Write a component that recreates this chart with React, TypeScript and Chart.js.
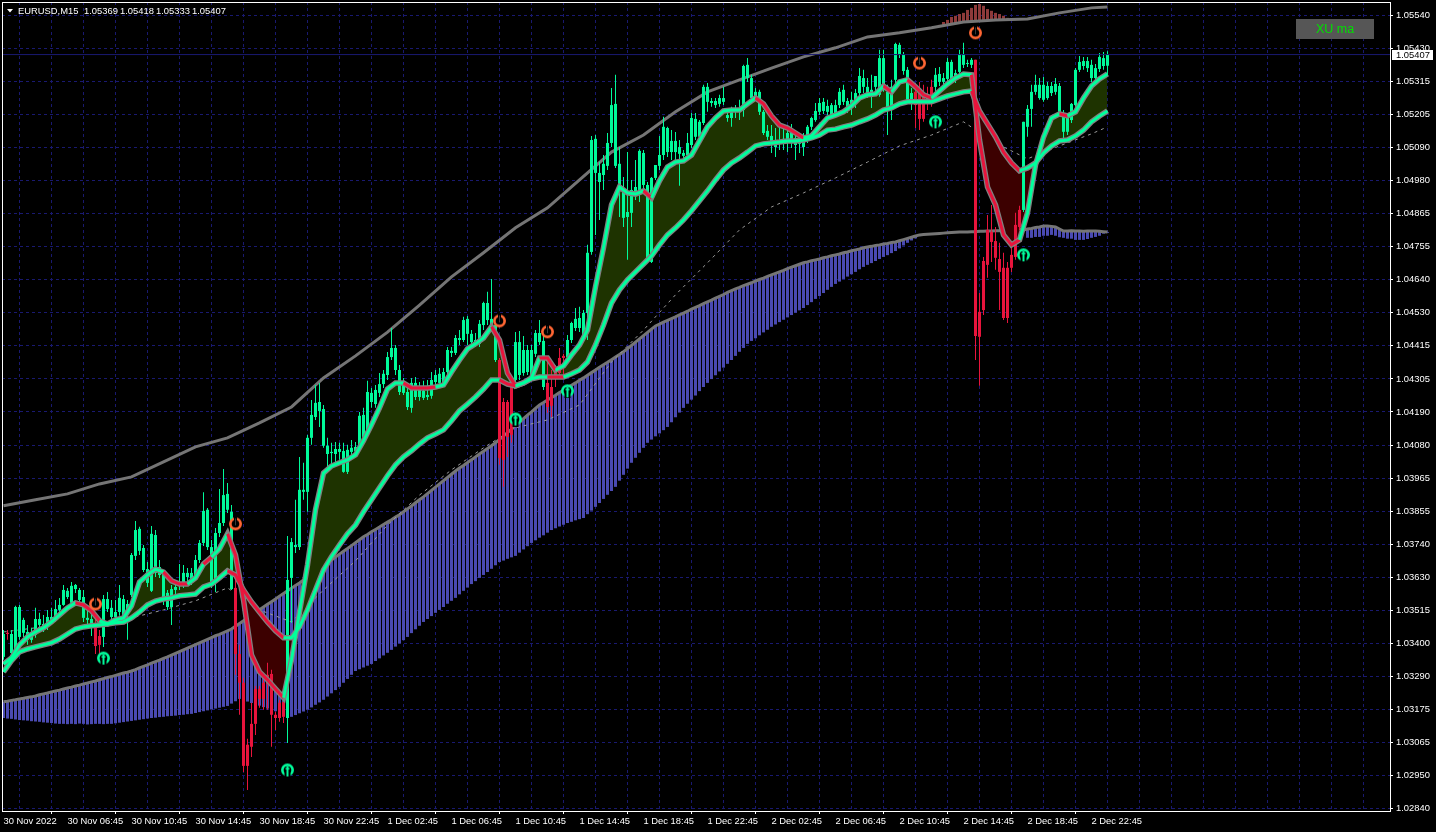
import React, { useEffect, useRef } from "react";
import { Chart, registerables } from "chart.js";

Chart.register(...registerables);

// All series are prices expressed as points above 1.00000 (5407 = 1.05407).
const candleTops = [3434,3438,3434,3526,3526,3482,3441,3438,3485,3485,3468,3492,3492,3519,3533,3584,3581,3598,3601,3584,3560,3489,3485,3468,3427,3553,3553,3523,3509,3557,3553,3536,3703,3788,3792,3727,3655,3775,3771,3662,3635,3574,3587,3594,3611,3642,3642,3642,3686,3744,3853,3857,3730,3778,3812,3907,3911,3850,3591,3366,3268,3057,3128,3247,3247,3268,3295,3298,3159,3200,3203,3618,3747,3737,3925,3925,4102,4180,4221,4224,4200,4075,4054,4064,4064,4057,4061,4068,4071,4177,4180,4258,4255,4265,4285,4320,4377,4408,4408,4333,4292,4258,4289,4289,4265,4262,4248,4299,4316,4320,4326,4401,4398,4442,4442,4503,4507,4456,4435,4490,4561,4561,4507,4486,4367,4224,4224,4275,4428,4428,4401,4401,4401,4459,4459,4432,4289,4275,4333,4374,4381,4435,4493,4507,4510,4527,4732,5116,5120,5004,5035,5106,5235,5239,5035,4953,4871,4946,4956,5079,5072,4963,4987,5031,5065,5161,5157,5113,5113,5092,5072,5106,5191,5188,5178,5297,5297,5249,5249,5259,5259,5201,5222,5222,5222,5368,5372,5327,5280,5280,5212,5147,5130,5106,5109,5120,5140,5140,5123,5109,5120,5161,5191,5215,5242,5246,5232,5235,5235,5280,5287,5249,5253,5276,5334,5327,5297,5287,5334,5395,5395,5280,5297,5443,5440,5406,5355,5276,5280,5276,5276,5270,5297,5338,5341,5327,5382,5382,5344,5409,5409,5378,5389,5389,4531,4704,4810,4803,4772,4711,4681,4681,4725,4827,4878,5178,5222,5280,5304,5304,5304,5300,5300,5307,5300,5208,5191,5239,5355,5382,5385,5385,5372,5361,5399,5395,5407];
const candleBottoms = [3356,3434,3369,3380,3424,3438,3414,3414,3431,3465,3455,3458,3482,3482,3516,3533,3560,3540,3587,3550,3489,3482,3465,3393,3397,3424,3519,3492,3492,3509,3489,3509,3567,3700,3717,3652,3608,3581,3642,3635,3550,3526,3526,3584,3601,3608,3628,3618,3635,3686,3744,3730,3604,3608,3778,3812,3857,3587,3366,3268,2985,2985,3050,3128,3213,3213,3264,3159,3148,3148,3152,3148,3625,3730,3730,3918,3918,4102,4173,4193,4075,4047,4050,4047,4054,3986,3986,4054,4057,4071,4105,4119,4224,4217,4255,4285,4316,4377,4333,4258,4255,4207,4204,4241,4241,4238,4241,4245,4292,4289,4289,4326,4391,4391,4435,4435,4456,4428,4418,4422,4486,4503,4486,4367,4033,4027,4105,4112,4299,4316,4323,4326,4309,4388,4428,4275,4207,4211,4306,4323,4374,4377,4435,4476,4476,4446,4527,4735,5004,4973,4997,5028,5106,5028,4953,4851,4854,4868,4936,4936,4963,4708,4701,4987,5028,5065,5075,5075,5075,5069,5062,5065,5099,5127,5127,5174,5246,5242,5235,5239,5246,5191,5191,5212,5212,5218,5327,5259,5259,5212,5140,5127,5106,5092,5106,5103,5116,5113,5099,5103,5092,5123,5161,5184,5212,5215,5212,5201,5208,5235,5246,5222,5225,5242,5276,5297,5276,5270,5297,5270,5300,5225,5225,5321,5406,5351,5253,5253,5235,5188,5188,5242,5253,5297,5314,5314,5324,5321,5321,5348,5372,5375,5372,4449,4446,4537,4691,4769,4715,4667,4510,4510,4681,4718,4820,4878,5161,5222,5280,5259,5253,5259,5276,5280,5212,5144,5144,5184,5235,5355,5368,5361,5327,5327,5358,5368,5369];
const highs = [3448,3448,3448,3530,3533,3489,3465,3455,3523,3506,3499,3516,3523,3550,3557,3601,3591,3611,3604,3591,3584,3516,3509,3489,3448,3567,3577,3550,3550,3601,3567,3550,3710,3819,3799,3737,3679,3802,3788,3686,3652,3584,3601,3618,3672,3669,3659,3659,3703,3754,3917,3863,3754,3795,3928,3996,3948,3873,3618,3397,3285,3077,3200,3257,3257,3278,3336,3312,3169,3210,3210,3768,3761,3891,4037,4017,4112,4231,4282,4289,4214,4102,4085,4088,4085,4085,4078,4095,4088,4190,4204,4296,4272,4282,4323,4333,4394,4476,4418,4350,4306,4289,4306,4309,4292,4296,4299,4326,4333,4340,4340,4411,4411,4452,4469,4514,4517,4469,4459,4503,4565,4599,4643,4503,4374,4238,4231,4282,4462,4466,4449,4418,4418,4469,4503,4452,4367,4333,4350,4408,4388,4452,4497,4544,4548,4537,4759,5130,5133,5042,5065,5140,5293,5338,5092,4990,5075,4980,5048,5085,5082,4973,4990,5031,5130,5195,5161,5150,5143,5116,5082,5140,5208,5208,5184,5304,5310,5259,5259,5270,5297,5225,5229,5235,5253,5372,5395,5338,5293,5287,5218,5167,5167,5157,5167,5161,5167,5171,5150,5133,5140,5167,5195,5242,5259,5259,5253,5242,5253,5293,5304,5259,5280,5290,5361,5355,5327,5338,5334,5423,5423,5304,5321,5447,5447,5416,5365,5293,5310,5314,5304,5297,5321,5361,5365,5344,5395,5389,5355,5423,5447,5389,5395,5389,4595,4718,4861,4895,4820,4766,4732,4701,4755,4868,4892,5178,5235,5304,5338,5327,5331,5314,5314,5327,5310,5218,5208,5242,5361,5402,5399,5399,5389,5375,5412,5416,5418];
const lows = [3346,3414,3356,3373,3414,3424,3397,3404,3421,3455,3441,3448,3475,3475,3509,3530,3553,3536,3574,3540,3475,3455,3427,3366,3366,3390,3509,3475,3482,3496,3475,3414,3560,3686,3703,3645,3594,3577,3628,3625,3533,3516,3465,3564,3584,3591,3611,3601,3625,3676,3734,3720,3591,3577,3764,3802,3846,3584,3295,3159,2964,2903,3015,3090,3183,3176,3176,3050,3107,3135,3131,3063,3472,3710,3720,3891,3850,4078,4163,4139,4068,4003,4003,4010,4027,3983,3979,4041,4044,4061,4078,4109,4204,4204,4241,4272,4299,4367,4316,4248,4248,4197,4187,4231,4228,4231,4231,4235,4282,4279,4282,4316,4377,4384,4418,4428,4418,4418,4411,4411,4469,4486,4469,4360,4010,3935,4037,4085,4289,4299,4313,4316,4296,4377,4418,4265,4187,4173,4275,4309,4309,4367,4425,4466,4462,4435,4435,4725,4793,4844,4946,5014,5092,5021,4854,4820,4708,4820,4912,4905,4936,4701,4697,4980,5014,5048,5058,5048,5038,4960,5048,5055,5089,5116,5116,5167,5212,5229,5225,5229,5235,5178,5161,5191,5184,5195,5314,5253,5253,5201,5133,5116,5072,5058,5082,5082,5075,5089,5048,5072,5062,5106,5150,5178,5201,5205,5201,5191,5198,5225,5235,5208,5201,5225,5263,5276,5259,5225,5270,5263,5280,5133,5184,5304,5395,5338,5242,5218,5157,5150,5178,5218,5229,5253,5300,5304,5314,5310,5310,5338,5361,5365,5361,4367,4279,4520,4647,4701,4674,4537,4503,4493,4667,4708,4810,4871,5127,5161,5270,5253,5246,5253,5266,5270,5201,5123,5133,5174,5229,5348,5355,5348,5314,5321,5348,5355,5333];
const redBars = [1,23,24,58,59,60,61,62,63,64,65,66,67,68,69,70,124,125,126,127,136,137,138,139,140,228,229,230,231,232,243,244,245,246,247,248,249,250,251,252,253,254];

// Sampled every second bar
const fastLine = [3332,3352,3397,3424,3441,3455,3475,3499,3523,3540,3533,3513,3479,3468,3482,3489,3530,3611,3635,3655,3645,3615,3604,3604,3625,3672,3696,3724,3775,3703,3550,3363,3305,3278,3247,3217,3346,3509,3669,3857,3982,4006,4017,4027,4044,4092,4146,4204,4268,4289,4289,4272,4272,4272,4275,4282,4326,4367,4405,4422,4442,4480,4435,4323,4279,4289,4306,4374,4374,4333,4347,4384,4418,4469,4616,4749,4895,4956,4936,4932,4943,4919,4977,5024,5041,5045,5065,5113,5161,5191,5215,5218,5218,5239,5259,5239,5198,5167,5157,5140,5123,5130,5161,5191,5201,5212,5232,5259,5270,5273,5300,5280,5314,5321,5297,5270,5259,5283,5307,5327,5341,5338,5116,4956,4895,4793,4759,4776,4868,5031,5126,5191,5205,5198,5212,5259,5300,5324,5341];
const slowLine = [3305,3343,3373,3383,3390,3397,3404,3417,3434,3451,3458,3462,3465,3468,3472,3475,3489,3509,3533,3546,3553,3557,3564,3567,3570,3594,3604,3625,3649,3635,3584,3543,3509,3475,3445,3421,3421,3458,3516,3584,3652,3697,3737,3775,3805,3850,3891,3932,3973,4010,4037,4058,4081,4102,4115,4129,4160,4194,4217,4241,4268,4299,4299,4285,4279,4289,4303,4309,4309,4309,4309,4320,4333,4360,4418,4486,4561,4606,4640,4667,4694,4721,4759,4793,4817,4844,4875,4909,4943,4980,5014,5038,5055,5075,5096,5103,5106,5109,5113,5113,5116,5123,5133,5150,5153,5161,5167,5178,5188,5201,5218,5225,5239,5246,5246,5246,5246,5256,5266,5273,5280,5283,5215,5171,5127,5075,5038,5011,5021,5038,5072,5096,5113,5116,5130,5150,5178,5198,5215];
// Samples whose segment is painted red
const fastRedSamples = [9,10,11,20,21,22,25,28,29,30,31,32,33,34,50,51,52,53,61,62,63,67,68,80,94,95,96,97,98,99,110,113,114,115,121,122,123,124,125,126,132];
const slowRedSamples = [28,29,30,31,32,33,34,62,63,68,69,121,122,123,124,125,126];

// Sampled every eighth bar, plus the last bar
const upperEnvelope = [3871,3891,3911,3945,3969,4020,4071,4102,4153,4207,4306,4381,4462,4554,4650,4732,4817,4885,4980,5075,5133,5212,5280,5321,5361,5399,5430,5467,5481,5498,5518,5525,5528,5549,5566,5569];
const dottedLine = [3441,3455,3465,3468,3489,3516,3547,3591,3516,3475,3584,3683,3805,3907,3993,4068,4136,4163,4214,4360,4469,4589,4698,4810,4888,4936,4987,5041,5096,5133,5178,5106,5052,5096,5137,5161];

const histTop = [3203,3205,3208,3210,3213,3215,3218,3220,3223,3227,3230,3233,3237,3240,3243,3247,3250,3253,3257,3260,3264,3267,3271,3274,3278,3282,3286,3289,3293,3297,3301,3304,3308,3313,3319,3324,3329,3335,3340,3345,3351,3356,3362,3368,3374,3380,3386,3392,3398,3404,3410,3416,3422,3428,3433,3439,3445,3451,3460,3470,3479,3489,3498,3507,3517,3526,3535,3544,3553,3563,3572,3581,3590,3599,3608,3618,3627,3637,3647,3656,3666,3676,3686,3696,3706,3716,3725,3735,3745,3755,3765,3773,3782,3790,3798,3807,3815,3823,3832,3840,3850,3860,3870,3881,3891,3901,3912,3923,3934,3945,3956,3967,3978,3989,3999,4008,4018,4027,4037,4047,4056,4066,4075,4085,4097,4108,4120,4132,4144,4155,4167,4179,4190,4202,4214,4222,4231,4239,4247,4256,4264,4273,4281,4289,4298,4306,4315,4324,4333,4342,4351,4359,4368,4377,4386,4395,4406,4417,4428,4439,4450,4461,4472,4483,4489,4496,4502,4508,4514,4521,4527,4533,4540,4546,4552,4559,4565,4571,4578,4584,4590,4597,4603,4609,4614,4620,4625,4630,4636,4641,4646,4652,4657,4662,4667,4672,4678,4683,4688,4693,4698,4701,4705,4708,4711,4715,4718,4722,4725,4728,4732,4735,4739,4742,4745,4749,4752,4754,4757,4759,4762,4764,4767,4769,4773,4777,4781,4785,4789,4793,4794,4795,4796,4797,4798,4799,4800,4801,4802,4803,4803,4803,4804,4804,4805,4805,4806,4806,4807,4807,4808,4808,4809,4809,4810,4810,4813,4815,4818,4820,4823,4823,4822,4820,4813,4806,4806,4807,4806,4806,4805,4806,4806,4806,4805,4804,4803];
const histBottom = [3148,3146,3145,3143,3141,3140,3139,3137,3136,3135,3133,3132,3131,3129,3128,3128,3127,3128,3127,3129,3128,3126,3127,3128,3128,3127,3128,3128,3130,3132,3134,3136,3138,3140,3142,3144,3146,3148,3149,3151,3152,3154,3155,3156,3158,3159,3161,3162,3165,3168,3171,3174,3177,3180,3183,3186,3189,3197,3205,3213,3208,3204,3199,3194,3190,3185,3180,3176,3171,3166,3162,3157,3152,3158,3164,3170,3176,3184,3193,3201,3210,3221,3232,3243,3254,3268,3281,3295,3308,3314,3320,3326,3332,3342,3351,3361,3370,3380,3391,3402,3413,3424,3437,3450,3462,3475,3485,3495,3506,3516,3526,3537,3547,3557,3569,3581,3592,3604,3614,3625,3635,3645,3656,3668,3679,3684,3690,3695,3700,3711,3722,3733,3744,3753,3762,3770,3779,3788,3794,3800,3806,3812,3816,3821,3825,3829,3842,3854,3867,3880,3894,3908,3921,3935,3956,3976,3997,4017,4034,4051,4068,4085,4096,4107,4117,4128,4139,4155,4172,4188,4204,4218,4232,4246,4261,4275,4289,4302,4315,4328,4341,4354,4367,4381,4395,4408,4422,4432,4441,4451,4461,4470,4480,4488,4496,4504,4512,4520,4528,4536,4544,4554,4564,4575,4585,4595,4606,4616,4626,4634,4643,4651,4659,4667,4676,4684,4691,4697,4704,4711,4718,4724,4731,4738,4747,4757,4766,4774,4781,4789,null,null,null,null,null,null,null,null,null,null,null,null,null,null,null,null,null,null,null,null,null,null,null,null,null,4810,4783,4783,4786,4786,4790,4790,4793,4790,4785,4783,4780,4780,4776,4776,4776,4779,4783,4786,4790,4797,4800];

// Red histogram above the upper envelope, bars 232..251
const roofFirstBar = 232;
const roofTop = [5501,5504,5508,5518,5525,5535,5539,5545,5549,5559,5566,5576,5579,5573,5562,5556,5549,5545,5539,5532];
const roofBase = [5498,5501,5501,5504,5508,5511,5511,5515,5515,5518,5518,5518,5521,5521,5521,5525,5525,5525,5525,5525];

const upBars = [25,71,128,141,233,255];
const upPrices = [3352,2971,4166,4262,5178,4725];
const downBars = [23,58,124,136,229,243];
const downPrices = [3536,3809,4500,4463,5378,5481];

const bidPrice = 5407;
const ohlcText = ["1.05369","1.05418","1.05333","1.05407"];
const priceLabels = ["1.05540","1.05430","1.05315","1.05205","1.05090","1.04980","1.04865","1.04755","1.04640","1.04530","1.04415","1.04305","1.04190","1.04080","1.03965","1.03855","1.03740","1.03630","1.03515","1.03400","1.03290","1.03175","1.03065","1.02950","1.02840"];
const timeLabels = ["30 Nov 2022","30 Nov 06:45","30 Nov 10:45","30 Nov 14:45","30 Nov 18:45","30 Nov 22:45","1 Dec 02:45","1 Dec 06:45","1 Dec 10:45","1 Dec 14:45","1 Dec 18:45","1 Dec 22:45","2 Dec 02:45","2 Dec 06:45","2 Dec 10:45","2 Dec 14:45","2 Dec 18:45","2 Dec 22:45"];

const GREEN = "#00FF9C";
const CANDLE_GREEN = "#00FA9A";
const RED = "#E8143C";
const GREY = "#808080";
const GRID = "#191970";
const FONT = '"Liberation Sans", sans-serif';

const price = (v: number) => 1 + v / 100000;
const X_MIN = -0.375;
const X_MAX = 346.625;
const Y_MAX = price(5586);
const Y_MIN = price(2831.3);

function marker(color: string, up: boolean) {
  const c = document.createElement("canvas");
  c.width = 15;
  c.height = 15;
  const g = c.getContext("2d")!;
  g.fillStyle = color;
  g.beginPath();
  g.arc(7.5, 7.5, 6.5, 0, Math.PI * 2);
  g.fill();
  g.fillStyle = "#000";
  g.beginPath();
  g.arc(7.5, 7.5, 3.8, 0, Math.PI * 2);
  g.fill();
  if (up) {
    g.fillRect(4.5, 8, 6, 7);
    g.fillStyle = color;
    g.fillRect(6.5, 4, 2, 10);
    g.fillRect(5.5, 5.5, 4, 1.5);
  } else {
    g.fillRect(6, 0, 3, 8);
    g.fillStyle = "#3a3a3a";
    g.fillRect(7, 2, 1, 7);
  }
  return c;
}

const framePlugin = {
  id: "mt4Frame",
  afterDraw(chart: any) {
    const { ctx, chartArea: a, scales } = chart;
    ctx.save();
    ctx.strokeStyle = "#fff";
    ctx.lineWidth = 1;
    ctx.strokeRect(a.left + 0.5, a.top + 0.5, a.right - a.left, a.bottom - a.top);
    ctx.fillStyle = "#fff";
    ctx.beginPath();
    ctx.moveTo(7, 9);
    ctx.lineTo(13, 9);
    ctx.lineTo(10, 12.5);
    ctx.closePath();
    ctx.fill();
    ctx.font = `9.4px ${FONT}`;
    ctx.textBaseline = "alphabetic";
    ctx.textAlign = "left";
    ctx.fillText("EURUSD,M15", 18, 14);
    ohlcText.forEach((t, i) => ctx.fillText(t, 84 + 36 * i, 14));
    ctx.fillStyle = "#fff";
    const by = scales.y.getPixelForValue(price(bidPrice));
    ctx.fillRect(1392, Math.round(by) - 5, 41, 10);
    ctx.fillStyle = "#000";
    ctx.textBaseline = "middle";
    ctx.fillText(ohlcText[3], 1396, Math.round(by) + 0.5);
    ctx.fillStyle = "#565656";
    ctx.fillRect(1296, 19, 78, 20);
    ctx.fillStyle = "#00E000";
    ctx.font = `12.5px ${FONT}`;
    ctx.textAlign = "center";
    ctx.fillText("XU ma", 1335, 29.5);
    ctx.restore();
  },
};

export default function App() {
  const ref = useRef<HTMLCanvasElement | null>(null);

  useEffect(() => {
    if (!ref.current) return;
    const red = new Set(redBars);
    const colors = highs.map((_, i) => (red.has(i) ? RED : CANDLE_GREEN));
    const bars = (lo: (number | null)[], hi: number[]) =>
      hi.flatMap((h, i) => (lo[i] == null ? [] : [{ x: i, y: [price(lo[i] as number), price(h)] }]));
    const every = (vals: number[], step: number) =>
      vals.map((v, k) => ({ x: Math.min(k * step, 276), y: price(v) }));
    const fast = every(fastLine, 2);
    const slow = every(slowLine, 2);
    const noLine = { pointRadius: 0, pointHoverRadius: 0, tension: 0 };
    const fastRed = new Set(fastRedSamples);
    const slowRed = new Set(slowRedSamples);
    const paint = (s: Set<number>) => ({ borderColor: (c: any) => (s.has(c.p0DataIndex) ? RED : GREEN) });

    const datasets: any[] = [
      { type: "bar", data: bars(histBottom, histTop), backgroundColor: "#4A4AB2", barThickness: 3, inflateAmount: 0, order: 100 },
      { type: "bar", data: roofTop.map((t, k) => ({ x: roofFirstBar + k, y: [price(roofBase[k]), price(t)] })), backgroundColor: "#8E3A3A", barThickness: 3, inflateAmount: 0, order: 99 },
      { type: "line", data: histTop.map((v, i) => ({ x: i, y: price(v) })), borderColor: "#757575", borderWidth: 3, ...noLine, order: 98 },
      { type: "line", data: every(upperEnvelope, 8), borderColor: "#757575", borderWidth: 3, ...noLine, order: 97 },
      { type: "line", data: every(dottedLine, 8), borderColor: "#9a9a9a", borderWidth: 1, borderDash: [3, 4], ...noLine, order: 96 },
      { type: "line", data: slow, borderColor: "transparent", borderWidth: 0, ...noLine, order: 95 },
      { type: "line", data: fast, borderColor: "transparent", borderWidth: 0, ...noLine, order: 94, fill: { target: 5, above: "#1E3300", below: "#3C0000" } },
      { type: "bar", data: highs.map((h, i) => ({ x: i, y: [price(lows[i]), price(h)] })), backgroundColor: colors, barThickness: 1, inflateAmount: 0, order: 90 },
      { type: "bar", data: candleTops.map((t, i) => ({ x: i, y: [price(candleBottoms[i]), price(t)] })), backgroundColor: colors, barThickness: 3, inflateAmount: 0, minBarLength: 1, order: 89 },
      { type: "line", data: slow, borderColor: GREY, borderWidth: 5.5, ...noLine, order: 81 },
      { type: "line", data: fast, borderColor: GREY, borderWidth: 5.5, ...noLine, order: 80 },
      { type: "line", data: slow, borderColor: GREEN, segment: paint(slowRed), borderWidth: 3, ...noLine, order: 79 },
      { type: "line", data: fast, borderColor: GREEN, segment: paint(fastRed), borderWidth: 3, ...noLine, order: 78 },
      { type: "line", data: [{ x: X_MIN, y: price(bidPrice) }, { x: X_MAX, y: price(bidPrice) }], borderColor: GRID, borderWidth: 1, ...noLine, order: 70 },
      { type: "line", showLine: false, data: upBars.map((b, k) => ({ x: b, y: price(upPrices[k]) })), pointStyle: marker("#00FA9A", true), pointRadius: 7, order: 60 },
      { type: "line", showLine: false, data: downBars.map((b, k) => ({ x: b, y: price(downPrices[k]) })), pointStyle: marker("#FF6633", false), pointRadius: 7, order: 60 },
    ];

    const chart = new Chart(ref.current, {
      type: "bar",
      data: { datasets },
      plugins: [framePlugin],
      options: {
        animation: false,
        responsive: false,
        events: [],
        layout: { autoPadding: false, padding: { left: 2, top: 2, right: 0, bottom: 0 } },
        datasets: { bar: { grouped: false } },
        plugins: { legend: { display: false }, tooltip: { enabled: false }, title: { display: false } },
        scales: {
          x: {
            type: "linear",
            offset: false,
            min: X_MIN,
            max: X_MAX,
            afterBuildTicks(s: any) {
              const t = [];
              for (let b = 0; b <= 344; b += 8) t.push({ value: b });
              s.ticks = t;
            },
            afterFit(s: any) {
              s.height = 21;
              s.paddingLeft = 0;
              s.paddingRight = 0;
            },
            border: { display: false, dash: [3, 3] },
            grid: {
              color: GRID,
              lineWidth: 1,
              drawOnChartArea: true,
              tickLength: 3,
              tickColor: (c: any) => (c.index % 2 === 0 && c.index / 2 < timeLabels.length ? "#fff" : "transparent"),
              tickBorderDash: [],
            },
            ticks: {
              autoSkip: false,
              maxRotation: 0,
              minRotation: 0,
              align: "start",
              padding: 2,
              color: "#fff",
              font: { family: FONT, size: 9.4 },
              callback: (_v: any, i: number) => (i % 2 === 0 ? timeLabels[i / 2] ?? "" : ""),
            },
          },
          y: {
            type: "linear",
            position: "right",
            min: Y_MIN,
            max: Y_MAX,
            afterBuildTicks(s: any) {
              s.ticks = priceLabels.map((_, k) => ({ value: price(5540 - 112.5 * k) }));
            },
            afterFit(s: any) {
              s.width = 46;
              s.paddingTop = 0;
              s.paddingBottom = 0;
            },
            border: { display: false, dash: [3, 3] },
            grid: { color: GRID, lineWidth: 1, tickLength: 3, tickColor: "#fff", tickBorderDash: [] },
            ticks: {
              autoSkip: false,
              padding: 3,
              color: "#fff",
              font: { family: FONT, size: 9.4 },
              callback: (_v: any, i: number) => priceLabels[i],
            },
          },
        },
      },
    } as any);
    return () => chart.destroy();
  }, []);

  return (
    <div style={{ width: 1436, height: 832, background: "#000" }}>
      <style>{"html,body{margin:0;padding:0;background:#000}"}</style>
      <canvas ref={ref} width={1436} height={832} style={{ display: "block", background: "#000" }} />
    </div>
  );
}
